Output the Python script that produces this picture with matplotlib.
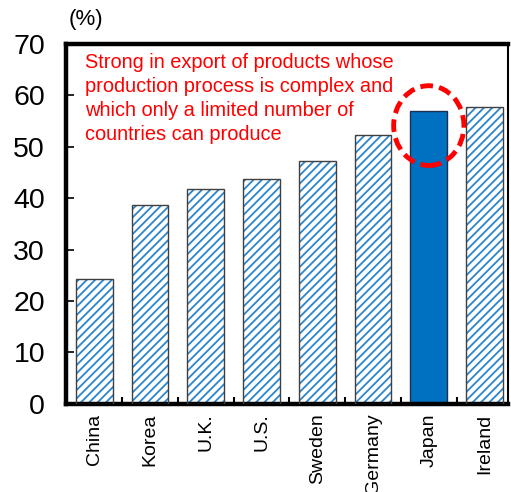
import matplotlib.pyplot as plt
from matplotlib.patches import Ellipse

# export share by country (%)
countries = ['China', 'Korea', 'U.K.', 'U.S.', 'Sweden', 'Germany', 'Japan', 'Ireland']
shares = [24.2, 38.6, 41.7, 43.7, 47.2, 52.3, 56.9, 57.7]
highlight = 'Japan'
note = ('Strong in export of products whose\n'
        'production process is complex and\n'
        'which only a limited number of\n'
        'countries can produce')

plt.rcParams['font.family'] = ['Liberation Sans', 'DejaVu Sans']
plt.rcParams['hatch.linewidth'] = 1.3

fig = plt.figure(figsize=(5.11, 4.92), dpi=100)
ax = fig.add_axes([0.129, 0.179, 0.865, 0.732])

blue = '#0070C0'
x = range(len(countries))
for i, (c, v) in enumerate(zip(countries, shares)):
    if c == highlight:
        ax.bar(i, v, width=0.66, color=blue, edgecolor='#1f2f4f', linewidth=1.0, zorder=2)
    else:
        # hatched fill, then outline on top
        ax.bar(i, v, width=0.66, color='white', edgecolor='#2a85cc', hatch='////',
               linewidth=0, zorder=2)
        ax.bar(i, v, width=0.66, fill=False, edgecolor='#404040', linewidth=1.0, zorder=3)

# dashed circle around the highlighted bar top
j = countries.index(highlight)
ax.add_patch(Ellipse((j, 54.1), 1.26, 15.5, fill=False, edgecolor='#ff0000',
                     linewidth=3.5, linestyle=(0, (2.6, 1.3)), zorder=4))

ax.text(0.043, 0.975, note, transform=ax.transAxes, color='#ff0000', fontsize=14.4,
        ha='left', va='top', linespacing=1.33)

ax.set_xlim(-0.51, 7.42)
ax.set_ylim(0, 70)
ax.set_yticks(range(0, 71, 10))
ax.tick_params(axis='y', direction='in', length=6, width=1.2, labelsize=20.5, pad=15)
ax.set_xticks(list(x))
ax.set_xticklabels(countries, rotation=90, fontsize=14)
ax.tick_params(axis='x', which='major', length=0, pad=7)
ax.set_xticks([i + 0.5 for i in range(len(countries) - 1)], minor=True)
ax.tick_params(axis='x', which='minor', direction='in', length=5, width=1.5)

for side in ['left', 'bottom', 'top']:
    ax.spines[side].set_linewidth(3.2)
ax.spines['right'].set_linewidth(1.5)

fig.text(0.135, 0.94, '(%)', fontsize=16, ha='left', va='bottom')

fig.savefig('out.png', dpi=100)
